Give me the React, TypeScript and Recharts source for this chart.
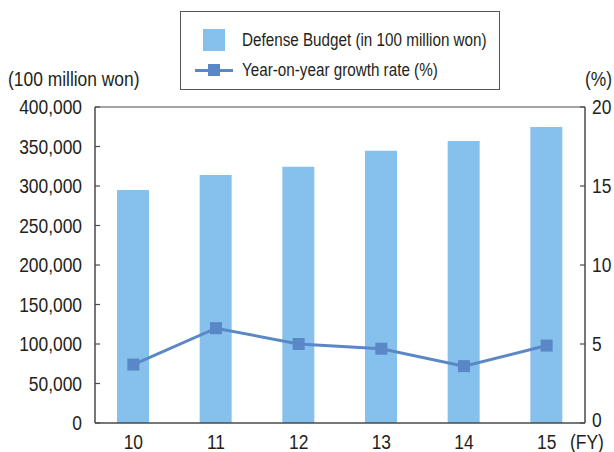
import React from "react";
import {
    ComposedChart,
    Bar,
    Line,
    XAxis,
    YAxis,
    ReferenceLine,
} from "recharts";

// ── Data ──────────────────────────────────────────────────────────────────────
const years = ["10", "11", "12", "13", "14", "15"];
const budget = [295000, 314000, 324500, 344500, 357000, 374700];
const growth = [3.7, 6.0, 5.0, 4.7, 3.6, 4.9];
const leftTicks = [0, 50000, 100000, 150000, 200000, 250000, 300000, 350000, 400000];
const rightTicks = [0, 5, 10, 15, 20];

const data = years.map((year, i) => ({ year, budget: budget[i], growth: growth[i] }));

// Liberation Sans squeezed horizontally to imitate a condensed Helvetica
const FONT = "'Liberation Sans', Arial, sans-serif";
const SQUEEZE = 0.87;
const TEXT = "#231f20";
const AXIS = "#4a4a4a";
const BAR = "#85c1ec";
const LINE = "#5a87c6";

const LEFT_X = 95;
const RIGHT_X = 585;

if (typeof document !== "undefined") document.body.style.margin = "0";

function NarrowText({ x, y, anchor, children }: any) {
    return (
        <text
            transform={`translate(${x},${y}) scale(${SQUEEZE},1)`}
            textAnchor={anchor}
            fill={TEXT}
            fontSize={20}
            fontFamily={FONT}
        >
            {children}
        </text>
    );
}

// ── Ticks (inward tick marks) ────────────────────────────────────────────────
function LeftTick({ x, y, payload }: any) {
    return (
        <g>
            <line x1={LEFT_X} x2={LEFT_X + 5} y1={y} y2={y} stroke={AXIS} strokeWidth={1.2} />
            <NarrowText x={x} y={y + 7} anchor="end">
                {payload.value.toLocaleString("en-US")}
            </NarrowText>
        </g>
    );
}

function RightTick({ x, y, payload }: any) {
    return (
        <g>
            <line x1={RIGHT_X - 5} x2={RIGHT_X} y1={y} y2={y} stroke={AXIS} strokeWidth={1.2} />
            <NarrowText x={x + 3} y={payload.value === 0 ? y + 4 : y + 7} anchor="start">
                {payload.value}
            </NarrowText>
        </g>
    );
}

function BottomTick({ x, y, payload }: any) {
    return (
        <NarrowText x={x} y={y + 26} anchor="middle">
            {payload.value}
        </NarrowText>
    );
}

function SquareDot({ cx, cy }: any) {
    if (cx == null || cy == null) return null;
    return <rect x={cx - 6} y={cy - 6} width={12} height={12} fill={LINE} />;
}

const squeezed = (size: number): React.CSSProperties => ({
    position: "absolute",
    fontSize: size,
    lineHeight: "22px",
    whiteSpace: "nowrap",
    transform: `scaleX(${SQUEEZE})`,
    transformOrigin: "left center",
});

// ── Component ─────────────────────────────────────────────────────────────────
export default function App() {
    return (
        <div style={{ position: "relative", width: 614, height: 452, fontFamily: FONT, color: TEXT }}>
            <ComposedChart
                width={614}
                height={452}
                data={data}
                margin={{ top: 107, right: 0, left: 0, bottom: 0 }}
                barSize={32}
            >
                <XAxis
                    dataKey="year"
                    height={29}
                    padding={{ left: -3, right: -3 }}
                    tickLine={false}
                    tickSize={0}
                    tickMargin={0}
                    axisLine={{ stroke: AXIS, strokeWidth: 1.5 }}
                    tick={<BottomTick />}
                />
                <YAxis
                    yAxisId="left"
                    width={95}
                    domain={[0, 400000]}
                    ticks={leftTicks}
                    interval={0}
                    tickLine={false}
                    tickSize={0}
                    tickMargin={13}
                    axisLine={{ stroke: AXIS, strokeWidth: 1.5 }}
                    tick={<LeftTick />}
                />
                <YAxis
                    yAxisId="right"
                    orientation="right"
                    width={29}
                    domain={[0, 20]}
                    ticks={rightTicks}
                    interval={0}
                    tickLine={false}
                    tickSize={0}
                    tickMargin={4}
                    axisLine={{ stroke: AXIS, strokeWidth: 1.5 }}
                    tick={<RightTick />}
                />
                <ReferenceLine yAxisId="left" y={400000} stroke={AXIS} strokeWidth={1.2} />
                <Bar yAxisId="left" dataKey="budget" fill={BAR} isAnimationActive={false} />
                <Line
                    yAxisId="right"
                    dataKey="growth"
                    stroke={LINE}
                    strokeWidth={3}
                    dot={<SquareDot />}
                    activeDot={false}
                    isAnimationActive={false}
                />
            </ComposedChart>

            {/* Axis unit labels */}
            <div style={{ ...squeezed(20), left: 8, top: 68 }}>(100 million won)</div>
            <div style={{ ...squeezed(20), left: 585, top: 68 }}>(%)</div>
            <div style={{ ...squeezed(20), left: 570, top: 431 }}>(FY)</div>

            {/* Legend */}
            <div
                style={{
                    position: "absolute",
                    left: 180,
                    top: 11,
                    width: 318,
                    height: 77,
                    border: "1.5px solid #555",
                    background: "#fff",
                }}
            >
                <div style={{ position: "absolute", left: 22, top: 17, width: 22, height: 22, background: BAR }} />
                <div style={{ ...squeezed(17.5), left: 61, top: 17 }}>Defense Budget (in 100 million won)</div>
                <div style={{ position: "absolute", left: 14, top: 57, width: 38, height: 3, background: LINE }} />
                <div style={{ position: "absolute", left: 27, top: 52, width: 12, height: 12, background: LINE }} />
                <div style={{ ...squeezed(17.5), left: 61, top: 47 }}>Year-on-year growth rate (%)</div>
            </div>
        </div>
    );
}
